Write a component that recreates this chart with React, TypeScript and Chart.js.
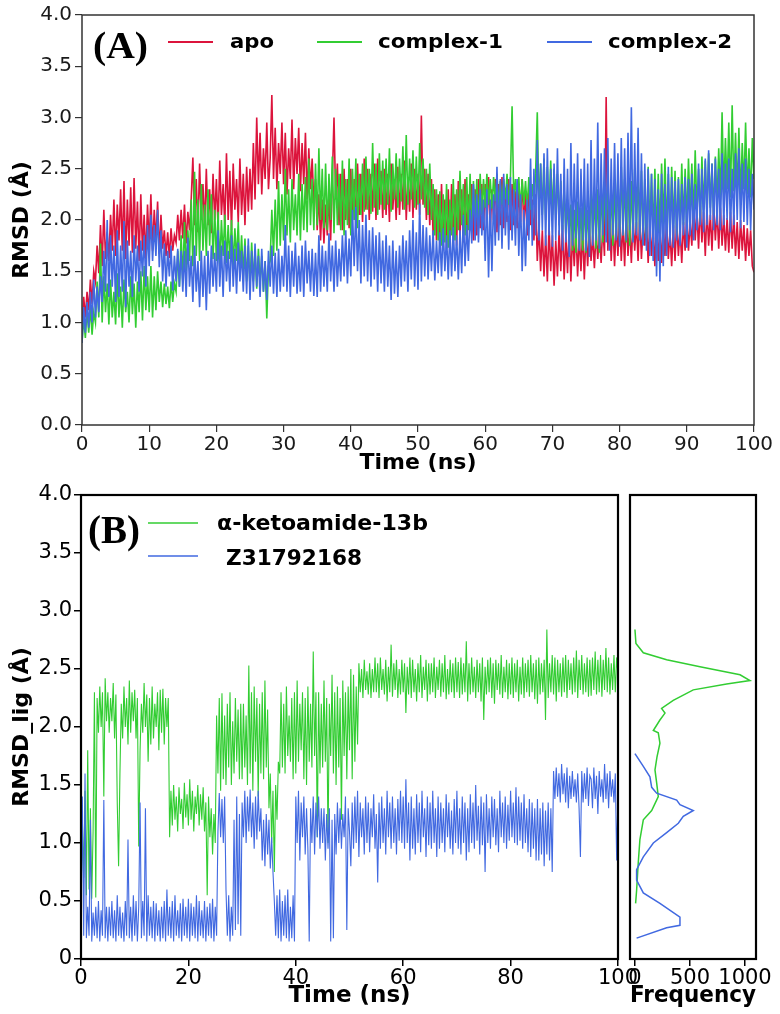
import React, { useEffect, useRef } from "react";
import { Chart, registerables } from "chart.js";

Chart.register(...registerables);

// ---------- DATA ----------
const TIME_STEP_NS = 0.25;

// Panel A: backbone RMSD (Å), one value every 0.25 ns from 0 to 100 ns
const APO = [
  0.95, 1.25, 1.05, 1.30, 1.12, 1.42, 1.18, 1.50, 1.40, 1.75, 1.48, 1.95, 1.55, 2.10, 1.62, 1.88, 1.60, 2.05, 1.70, 2.20,
  1.65, 2.15, 1.80, 2.30, 1.70, 2.38, 1.62, 2.20, 1.75, 2.32, 1.68, 2.41, 1.72, 2.18, 1.60, 2.25, 1.70, 2.05, 1.62, 2.15,
  1.75, 2.25, 1.70, 2.10, 1.80, 2.18, 1.67, 2.05, 1.72, 1.90, 1.65, 1.88, 1.63, 1.92, 1.70, 1.85, 1.78, 2.05, 1.80, 2.10,
  1.82, 2.15, 1.77, 2.08, 1.90, 2.20, 2.61, 1.95, 2.40, 1.88, 2.55, 2.00, 2.35, 1.92, 2.50, 1.95, 2.30, 1.87, 2.45, 2.00,
  2.40, 1.92, 2.58, 2.05, 2.35, 1.95, 2.65, 2.00, 2.48, 1.90, 2.55, 2.10, 2.40, 1.98, 2.60, 2.05, 2.45, 1.95, 2.52, 2.08,
  2.50, 2.10, 2.75, 2.20, 3.00, 2.35, 2.85, 2.25, 2.70, 2.40, 2.95, 2.30, 2.60, 3.22, 2.40, 2.90, 2.30, 2.75, 2.45, 2.95,
  2.35, 2.85, 2.25, 2.70, 2.40, 2.98, 2.30, 2.80, 2.45, 2.90, 2.28, 2.75, 2.35, 2.85, 2.20, 2.70, 2.30, 2.60, 2.15, 2.40,
  1.90, 2.25, 1.80, 2.20, 1.77, 2.15, 1.85, 2.25, 1.80, 2.40, 3.00, 2.20, 2.55, 1.95, 2.45, 1.90, 2.50, 2.00, 2.40, 1.92,
  2.50, 2.00, 2.40, 1.95, 2.55, 2.05, 2.45, 1.98, 2.60, 2.10, 2.50, 2.00, 2.45, 2.08, 2.55, 2.00, 2.60, 2.10, 2.48, 2.02,
  2.50, 2.05, 2.45, 1.98, 2.55, 2.10, 2.40, 2.00, 2.52, 2.05, 2.45, 2.10, 2.58, 2.00, 2.42, 2.08, 2.55, 2.02, 2.50, 2.10,
  2.45, 2.05, 3.02, 2.15, 2.50, 2.00, 2.45, 1.95, 2.40, 1.85, 2.30, 1.80, 2.25, 1.75, 2.35, 1.82, 2.20, 1.72, 2.30, 1.78,
  2.35, 1.80, 2.25, 1.75, 2.38, 1.85, 2.30, 1.78, 2.40, 1.82, 2.25, 1.90, 2.35, 1.80, 2.30, 1.85, 2.40, 1.92, 2.35, 1.90,
  2.35, 1.95, 2.42, 1.90, 2.30, 2.00, 2.40, 1.88, 2.35, 1.95, 2.42, 1.92, 2.30, 1.98, 2.40, 1.90, 2.35, 1.95, 2.28, 1.92,
  2.30, 1.98, 2.40, 1.92, 2.28, 1.85, 2.35, 1.95, 2.20, 1.80, 2.25, 1.60, 1.95, 1.50, 1.90, 1.45, 1.85, 1.40, 1.95, 1.50,
  1.85, 1.36, 1.80, 1.45, 1.90, 1.50, 1.95, 1.42, 1.85, 1.48, 1.93, 1.40, 1.88, 1.55, 1.92, 1.45, 1.85, 1.50, 1.90, 1.42,
  1.88, 1.55, 1.93, 1.60, 1.85, 1.53, 1.90, 1.62, 1.85, 1.58, 1.95, 1.65, 3.20, 1.70, 2.05, 1.60, 2.00, 1.55, 1.98, 1.65,
  2.05, 1.60, 1.98, 1.55, 2.06, 1.65, 1.95, 1.58, 2.02, 1.70, 1.98, 1.60, 2.05, 1.62, 1.95, 1.75, 2.02, 1.58, 1.98, 1.65,
  1.90, 1.55, 1.98, 1.60, 1.92, 1.58, 1.95, 1.65, 2.00, 1.62, 1.88, 1.55, 1.95, 1.60, 2.00, 1.65, 1.92, 1.58, 1.98, 1.70,
  2.05, 1.70, 1.98, 1.75, 2.18, 1.80, 2.10, 1.72, 2.15, 1.78, 2.08, 1.65, 2.12, 1.75, 2.05, 1.70, 2.15, 1.80, 2.10, 1.72,
  2.12, 1.75, 2.05, 1.70, 2.02, 1.68, 2.08, 1.72, 2.05, 1.65, 1.98, 1.62, 2.00, 1.70, 1.95, 1.60, 1.92, 1.65, 1.90, 1.55,
  1.49,
];

const COMPLEX1 = [
  0.80, 1.05, 0.85, 1.12, 0.90, 1.15, 0.88, 1.10, 1.00, 1.40, 1.05, 1.77, 1.00, 1.45, 1.10, 1.38, 0.98, 1.42, 1.05, 1.30,
  0.98, 1.48, 1.05, 1.35, 0.95, 1.42, 1.10, 1.30, 1.00, 1.45, 1.08, 1.38, 0.95, 1.40, 1.10, 1.50, 1.02, 1.55, 1.12, 1.45,
  1.10, 1.55, 1.05, 1.45, 1.12, 1.50, 1.20, 1.40, 1.15, 1.38, 1.18, 1.35, 1.14, 1.40, 1.20, 1.38, 1.30, 1.70, 1.35, 1.85,
  1.40, 1.98, 1.50, 1.90, 1.60, 2.20, 1.55, 2.47, 1.65, 2.20, 1.60, 2.35, 1.70, 2.15, 1.65, 2.30, 1.75, 2.25, 1.62, 2.10,
  1.60, 2.08, 1.55, 2.00, 1.65, 2.05, 1.58, 1.95, 1.62, 2.00, 1.54, 1.92, 1.60, 1.98, 1.50, 1.85, 1.45, 1.82, 1.40, 1.75,
  1.35, 1.78, 1.40, 1.70, 1.33, 1.72, 1.38, 1.65, 1.30, 1.60, 1.04, 1.55, 1.60, 2.10, 1.65, 2.20, 1.70, 2.38, 1.75, 2.25,
  1.80, 2.50, 1.85, 2.30, 1.78, 2.40, 1.90, 2.25, 1.85, 2.45, 1.80, 2.35, 1.90, 2.42, 1.88, 2.60, 1.95, 2.40, 1.90, 2.55,
  1.95, 2.70, 2.00, 2.50, 1.92, 2.55, 1.90, 2.45, 2.00, 2.62, 1.87, 2.50, 1.95, 2.45, 1.90, 2.58, 1.85, 2.40, 1.95, 2.60,
  1.85, 2.50, 2.00, 2.60, 1.92, 2.45, 2.05, 2.55, 2.08, 2.62, 2.10, 2.50, 2.06, 2.75, 2.12, 2.55, 2.05, 2.65, 2.15, 2.58,
  2.10, 2.60, 2.15, 2.70, 2.08, 2.55, 2.20, 2.65, 2.12, 2.60, 2.18, 2.72, 2.10, 2.83, 2.15, 2.60, 2.20, 2.68, 2.12, 2.62,
  2.15, 2.75, 2.20, 2.60, 2.12, 2.50, 2.05, 2.55, 2.00, 2.35, 1.85, 2.30, 1.80, 2.28, 1.75, 2.25, 1.78, 2.35, 1.73, 2.20,
  1.85, 2.40, 1.80, 2.30, 1.90, 2.48, 1.95, 2.35, 1.85, 2.42, 1.90, 2.45, 1.88, 2.38, 2.00, 2.40, 1.95, 2.45, 2.05, 2.40,
  2.12, 2.45, 2.15, 2.40, 2.11, 2.42, 2.18, 2.45, 2.12, 2.38, 2.15, 2.40, 2.20, 2.45, 2.15, 2.40, 3.11, 2.20, 2.40, 2.15,
  2.42, 2.10, 2.40, 2.15, 2.38, 2.12, 2.42, 2.10, 2.35, 2.15, 2.45, 3.05, 2.10, 2.55, 2.05, 2.60, 2.00, 2.52, 2.08, 2.58,
  2.05, 2.50, 2.00, 2.45, 1.95, 2.38, 1.90, 2.30, 1.85, 2.20, 1.75, 2.15, 1.70, 2.10, 1.68, 2.18, 1.72, 2.12, 1.70, 2.20,
  1.68, 2.10, 1.75, 2.35, 1.80, 2.25, 1.72, 2.30, 1.68, 2.35, 1.78, 2.28, 1.85, 2.40, 1.80, 2.30, 1.75, 2.35, 1.82, 2.45,
  1.80, 2.52, 1.85, 2.40, 1.78, 2.45, 1.75, 2.38, 1.80, 2.50, 1.90, 2.42, 1.85, 2.48, 1.76, 2.40, 1.82, 2.52, 1.90, 2.45,
  1.85, 2.50, 1.80, 2.45, 1.88, 2.55, 1.95, 2.60, 1.90, 2.45, 1.85, 2.52, 1.92, 2.48, 1.85, 2.42, 1.90, 2.55, 1.95, 2.50,
  1.95, 2.60, 2.05, 2.55, 2.00, 2.68, 2.08, 2.50, 1.98, 2.62, 2.10, 2.58, 2.05, 2.65, 2.12, 2.55, 2.05, 2.62, 2.15, 2.70,
  2.20, 3.05, 2.25, 2.80, 2.30, 2.95, 2.22, 3.12, 2.28, 2.85, 2.25, 2.90, 2.20, 2.75, 2.30, 2.95, 2.25, 2.70, 2.22, 2.80,
  2.40,
];

const COMPLEX2 = [
  0.80, 1.15, 0.90, 1.20, 0.95, 1.30, 1.00, 1.42, 1.05, 1.35, 1.10, 1.45, 1.20, 1.70, 1.30, 2.00, 1.25, 1.85, 1.35, 1.75,
  1.20, 1.90, 1.25, 1.75, 1.30, 1.99, 1.15, 1.80, 1.35, 1.70, 1.25, 1.85, 1.40, 1.75, 1.30, 1.80, 1.45, 1.85, 1.35, 1.95,
  1.55, 2.05, 1.60, 1.95, 1.65, 2.10, 1.54, 1.90, 1.40, 1.77, 1.35, 1.70, 1.45, 1.75, 1.31, 1.65, 1.40, 1.72, 1.35, 1.70,
  1.30, 1.70, 1.25, 1.83, 1.35, 1.65, 1.20, 1.75, 1.30, 1.60, 1.15, 1.70, 1.25, 1.65, 1.12, 1.70, 1.28, 1.75, 1.35, 1.68,
  1.30, 1.90, 1.35, 1.75, 1.25, 1.80, 1.40, 1.70, 1.30, 1.85, 1.35, 1.72, 1.28, 1.78, 1.40, 1.70, 1.30, 1.75, 1.28, 1.82,
  1.22, 1.70, 1.30, 1.77, 1.35, 1.65, 1.25, 1.72, 1.30, 1.60, 1.22, 1.70, 1.35, 1.75, 1.28, 1.68, 1.25, 1.72, 1.30, 1.65,
  1.35, 1.95, 1.30, 1.75, 1.25, 1.70, 1.35, 1.78, 1.28, 1.65, 1.30, 1.75, 1.25, 1.80, 1.38, 1.70, 1.30, 1.72, 1.26, 1.68,
  1.25, 1.85, 1.30, 1.75, 1.35, 1.70, 1.30, 1.87, 1.40, 1.75, 1.30, 1.80, 1.35, 1.72, 1.40, 1.85, 1.45, 1.90, 1.38, 1.82,
  1.45, 2.10, 1.55, 2.13, 1.50, 2.00, 1.38, 1.95, 1.45, 2.05, 1.40, 1.90, 1.35, 1.93, 1.42, 1.85, 1.30, 1.88, 1.38, 1.80,
  1.30, 1.85, 1.35, 1.75, 1.22, 1.80, 1.28, 1.70, 1.25, 1.75, 1.35, 1.85, 1.40, 1.80, 1.30, 1.90, 1.42, 2.00, 1.35, 1.88,
  1.32, 2.16, 1.40, 1.95, 1.45, 1.93, 1.42, 1.85, 1.50, 1.90, 1.41, 1.80, 1.48, 1.88, 1.45, 1.92, 1.50, 1.85, 1.42, 1.90,
  1.45, 1.93, 1.50, 1.85, 1.42, 1.90, 1.48, 2.05, 1.55, 1.95, 1.60, 2.10, 1.77, 2.35, 1.80, 2.25, 1.78, 2.30, 1.85, 2.20,
  1.60, 2.30, 1.44, 2.20, 1.50, 2.25, 1.75, 2.52, 1.80, 2.40, 1.72, 2.45, 1.85, 2.35, 1.71, 2.42, 1.80, 2.30, 1.75, 2.40,
  1.65, 2.25, 1.50, 2.10, 1.55, 2.20, 1.80, 2.60, 1.75, 2.50, 1.85, 2.78, 1.80, 2.55, 1.90, 2.65, 1.75, 2.70, 1.85, 2.50,
  1.74, 2.55, 1.80, 2.70, 1.85, 2.45, 1.70, 2.60, 1.78, 2.50, 1.64, 2.75, 1.75, 2.55, 1.82, 2.65, 1.70, 2.50, 1.80, 2.60,
  1.70, 2.55, 1.64, 2.78, 1.75, 2.60, 1.80, 2.95, 1.72, 2.65, 1.85, 2.70, 1.78, 2.80, 1.70, 2.60, 1.85, 2.75, 1.80, 2.65,
  1.74, 2.80, 1.85, 2.70, 1.80, 2.85, 1.90, 3.10, 1.78, 2.75, 1.85, 2.90, 1.80, 2.65, 1.75, 2.55, 1.70, 2.50, 1.65, 2.45,
  1.60, 2.40, 1.45, 2.30, 1.40, 2.45, 1.55, 2.35, 1.65, 2.52, 1.75, 2.42, 1.73, 2.38, 1.80, 2.40, 1.75, 2.35, 1.85, 2.42,
  1.73, 2.40, 1.85, 2.45, 1.80, 2.35, 1.90, 2.55, 1.95, 2.50, 1.88, 2.60, 1.95, 2.68, 2.00, 2.55, 1.90, 2.60, 1.95, 2.50,
  1.90, 2.65, 1.95, 2.55, 2.00, 2.60, 1.88, 2.50, 1.95, 2.65, 2.00, 2.70, 1.92, 2.55, 1.98, 2.60, 1.95, 2.50, 1.90, 2.45,
  2.10,
];

// Panel B: ligand RMSD (Å), one value every 0.25 ns from 0 to 100 ns
const KETO = [
  0.50, 1.20, 0.70, 1.45, 0.55, 1.80, 0.60, 1.30, 0.52, 1.10, 2.30, 0.53, 2.25, 1.95, 2.35, 2.00, 2.30, 1.40, 2.42, 2.05,
  2.30, 1.95, 2.25, 2.05, 2.38, 1.90, 2.28, 1.35, 0.80, 1.60, 2.20, 1.90, 2.35, 2.00, 2.25, 1.85, 2.40, 1.95, 2.30, 2.05,
  2.32, 1.90, 2.25, 0.97, 1.80, 2.20, 1.95, 2.38, 2.00, 2.28, 1.70, 2.25, 1.85, 2.35, 1.90, 2.20, 2.00, 2.30, 1.80, 2.32,
  1.95, 2.33, 1.85, 2.25, 2.00, 2.25, 1.05, 1.45, 1.15, 1.50, 1.20, 1.40, 1.10, 1.48, 1.25, 1.38, 1.12, 1.52, 1.22, 1.42,
  1.15, 1.55, 1.20, 1.45, 1.10, 1.40, 1.25, 1.50, 1.15, 1.42, 1.20, 1.48, 1.10, 1.35, 0.55, 1.40, 1.05, 1.30, 0.90, 1.25,
  1.00, 2.10, 1.60, 2.25, 1.45, 2.29, 1.55, 2.10, 1.50, 2.20, 1.65, 2.30, 1.50, 2.05, 1.60, 2.25, 1.70, 2.15, 1.55, 2.20,
  1.55, 2.20, 1.65, 2.10, 1.50, 2.53, 1.60, 2.30, 1.45, 2.35, 1.70, 2.25, 1.40, 2.20, 1.60, 2.30, 1.55, 2.40, 1.65, 2.15,
  1.30, 1.60, 1.00, 1.45, 0.75, 1.50, 1.20, 1.70, 1.60, 2.30, 1.65, 2.20, 1.60, 2.35, 1.75, 2.10, 1.70, 2.25, 1.55, 2.30,
  1.60, 2.40, 1.70, 2.20, 1.80, 2.30, 1.55, 2.25, 1.50, 2.35, 1.70, 2.20, 1.65, 2.65, 1.75, 2.30, 1.05, 2.30, 1.60, 2.20,
  1.65, 2.40, 1.70, 2.25, 1.00, 2.20, 1.75, 2.45, 1.60, 2.30, 1.50, 2.35, 1.65, 2.25, 1.20, 2.40, 1.75, 2.30, 1.55, 2.35,
  1.80, 2.50, 1.55, 2.45, 1.70, 2.35, 1.85, 2.55, 2.30, 2.50, 2.25, 2.58, 2.32, 2.48, 2.28, 2.55, 2.25, 2.50, 2.30, 2.60,
  2.30, 2.55, 2.25, 2.60, 2.32, 2.50, 2.28, 2.58, 2.22, 2.52, 2.30, 2.71, 2.26, 2.55, 2.32, 2.58, 2.25, 2.50, 2.28, 2.58,
  2.30, 2.55, 2.12, 2.52, 2.28, 2.60, 2.25, 2.58, 2.30, 2.50, 2.22, 2.55, 2.30, 2.62, 2.25, 2.52, 2.32, 2.58, 2.22, 2.55,
  2.28, 2.55, 2.30, 2.60, 2.25, 2.52, 2.32, 2.58, 2.26, 2.55, 2.30, 2.62, 2.24, 2.50, 2.28, 2.58, 2.30, 2.55, 2.25, 2.60,
  2.30, 2.56, 2.25, 2.60, 2.28, 2.55, 2.30, 2.74, 2.22, 2.55, 2.28, 2.60, 2.30, 2.52, 2.25, 2.58, 2.30, 2.55, 2.22, 2.60,
  2.06, 2.52, 2.28, 2.58, 2.30, 2.60, 2.25, 2.55, 2.20, 2.58, 2.32, 2.55, 2.28, 2.62, 2.25, 2.52, 2.30, 2.58, 2.24, 2.55,
  2.28, 2.60, 2.25, 2.55, 2.30, 2.58, 2.22, 2.52, 2.28, 2.60, 2.25, 2.55, 2.30, 2.58, 2.26, 2.62, 2.30, 2.55, 2.24, 2.58,
  2.20, 2.60, 2.28, 2.55, 2.30, 2.58, 2.06, 2.84, 2.25, 2.55, 2.30, 2.62, 2.28, 2.60, 2.22, 2.58, 2.30, 2.55, 2.26, 2.60,
  2.30, 2.62, 2.25, 2.58, 2.32, 2.55, 2.28, 2.60, 2.30, 2.66, 2.25, 2.58, 2.32, 2.62, 2.28, 2.55, 2.30, 2.60, 2.26, 2.58,
  2.27, 2.60, 2.32, 2.65, 2.28, 2.58, 2.30, 2.62, 2.26, 2.58, 2.32, 2.68, 2.30, 2.60, 2.28, 2.55, 2.32, 2.62, 2.30, 2.60,
  2.45,
];

const Z3 = [
  0.25, 1.40, 0.20, 1.60, 0.18, 0.45, 0.20, 1.20, 0.15, 0.40, 0.20, 0.45, 0.18, 0.50, 0.15, 0.42, 0.20, 1.37, 0.18, 0.45,
  0.15, 0.45, 0.20, 0.50, 0.18, 0.42, 0.15, 0.55, 0.20, 0.45, 0.18, 0.40, 0.15, 0.50, 0.20, 1.03, 0.18, 0.45, 0.15, 0.55,
  0.20, 0.50, 0.15, 0.45, 1.35, 0.18, 0.50, 0.20, 1.30, 0.15, 0.55, 0.20, 0.45, 0.18, 0.50, 0.15, 0.48, 0.20, 0.42, 0.15,
  0.45, 0.18, 0.50, 0.15, 0.60, 0.20, 0.45, 0.18, 0.50, 0.15, 0.55, 0.20, 0.42, 0.18, 0.48, 0.15, 0.52, 0.20, 0.45, 0.18,
  0.52, 0.15, 0.48, 0.20, 0.45, 0.18, 0.55, 0.15, 0.50, 0.20, 0.42, 0.18, 0.50, 0.15, 0.45, 0.20, 0.48, 0.18, 0.52, 0.15,
  0.45, 0.20, 1.10, 1.43, 1.05, 1.38, 1.00, 1.40, 0.60, 0.20, 0.55, 0.15, 0.45, 0.20, 1.20, 0.25, 1.40, 0.30, 1.25, 0.20,
  1.35, 1.05, 1.45, 1.00, 1.40, 1.10, 1.46, 1.05, 1.35, 0.95, 1.40, 1.03, 1.45, 1.10, 1.30, 0.85, 1.20, 0.80, 1.25, 0.90,
  1.20, 0.78, 1.05, 0.75, 0.50, 0.20, 0.55, 0.18, 0.60, 0.15, 0.50, 0.20, 0.55, 0.18, 0.60, 0.15, 0.45, 0.18, 0.55, 0.15,
  1.40, 1.00, 1.45, 0.85, 1.35, 1.05, 1.40, 0.90, 1.30, 0.95, 0.15, 1.30, 1.00, 1.40, 0.90, 1.35, 1.05, 1.40, 0.95, 1.30,
  1.00, 1.30, 0.85, 1.25, 0.95, 1.30, 0.15, 1.20, 0.18, 1.25, 0.90, 1.35, 1.00, 1.30, 0.95, 1.25, 1.05, 1.40, 0.25, 1.30,
  1.10, 0.80, 1.35, 0.95, 1.40, 1.00, 1.45, 0.88, 1.35, 1.05, 1.30, 0.90, 1.40, 1.00, 1.35, 0.92, 1.30, 1.05, 1.42, 0.95,
  1.25, 0.66, 1.35, 0.95, 1.40, 1.00, 1.30, 0.90, 1.45, 1.05, 1.35, 0.95, 1.40, 1.00, 1.30, 0.90, 1.38, 1.02, 1.45, 1.00,
  1.40, 0.95, 1.55, 1.00, 1.35, 0.85, 1.40, 0.95, 1.30, 0.90, 1.42, 1.00, 1.35, 0.92, 1.45, 1.05, 1.30, 0.88, 1.40, 0.98,
  1.35, 0.95, 1.45, 1.00, 1.30, 0.88, 1.40, 0.95, 1.35, 1.00, 1.30, 0.92, 1.42, 1.05, 1.35, 0.95, 1.28, 0.90, 1.38, 1.00,
  1.45, 0.95, 1.30, 0.90, 1.40, 1.00, 1.35, 0.85, 1.30, 0.92, 1.42, 1.00, 1.35, 0.95, 1.50, 1.02, 1.32, 0.90, 1.40, 0.98,
  1.35, 0.75, 1.42, 1.00, 1.30, 0.95, 1.40, 1.05, 1.38, 0.98, 1.30, 0.92, 1.45, 1.05, 1.35, 1.00, 1.40, 0.95, 1.33, 1.02,
  1.45, 1.05, 1.35, 1.00, 1.48, 0.98, 1.40, 1.02, 1.35, 0.95, 1.42, 1.00, 1.30, 0.92, 1.38, 0.88, 1.35, 0.95, 1.30, 0.85,
  1.38, 0.85, 1.30, 0.90, 1.35, 0.80, 1.28, 0.90, 1.35, 0.85, 1.30, 0.75, 1.62, 1.38, 1.65, 1.40, 1.60, 1.35, 1.68, 1.42,
  1.60, 1.35, 1.65, 1.30, 1.58, 1.38, 1.62, 1.40, 1.55, 1.35, 1.60, 1.30, 0.88, 1.62, 1.35, 1.60, 1.38, 1.65, 1.32, 1.58,
  1.55, 1.30, 1.65, 1.38, 1.58, 1.25, 1.62, 1.40, 1.55, 1.35, 1.68, 1.38, 1.60, 1.30, 1.62, 1.40, 1.55, 1.35, 1.60, 0.85,
  1.45,
];

// Panel B (right): frequency distributions of ligand RMSD
const KETO_FREQ_RMSD = [2.84, 2.72, 2.64, 2.58, 2.52, 2.45, 2.40, 2.37, 2.32, 2.23, 2.16, 2.12, 2.06, 1.97, 1.95, 1.86, 1.74, 1.63, 1.52, 1.40, 1.28, 1.20, 1.03, 0.83, 0.59, 0.48];
const KETO_FREQ_COUNT = [0, 9, 76, 288, 591, 955, 1045, 833, 530, 348, 242, 273, 227, 167, 212, 227, 200, 182, 197, 212, 152, 76, 45, 30, 15, 6];
const Z3_FREQ_RMSD = [1.77, 1.66, 1.57, 1.48, 1.43, 1.37, 1.33, 1.28, 1.23, 1.17, 1.09, 1.00, 0.88, 0.77, 0.68, 0.57, 0.48, 0.36, 0.29, 0.27, 0.18];
const Z3_FREQ_COUNT = [0, 76, 136, 152, 197, 379, 409, 530, 439, 394, 288, 167, 76, 15, 15, 76, 227, 409, 409, 288, 15];

// Ticks
const A_X_TICKS = [0, 10, 20, 30, 40, 50, 60, 70, 80, 90, 100];
const A_Y_TICKS = [0, 0.5, 1, 1.5, 2, 2.5, 3, 3.5, 4];
const A_Y_TICK_LABELS = ["0.0", "0.5", "1.0", "1.5", "2.0", "2.5", "3.0", "3.5", "4.0"];
const B_X_TICKS = [0, 20, 40, 60, 80, 100];
const B_Y_TICKS = [0, 0.5, 1, 1.5, 2, 2.5, 3, 3.5, 4];
const B_Y_TICK_LABELS = ["0", "0.5", "1.0", "1.5", "2.0", "2.5", "3.0", "3.5", "4.0"];
const FREQ_TICKS = [0, 500, 1000];
const FREQ_TICK_LABELS = ["0", "500", "1000"];

const SERIES_A_LABELS = ["apo", "complex-1", "complex-2"];
const SERIES_B_LABELS = ["α-ketoamide-13b", "Z31792168"];

// ---------- STYLE ----------
const RED = "#DC143C";
const GREEN = "#32CD32";
const BLUE = "#4169E1";
const SANS = "'DejaVu Sans', sans-serif";
const SERIF = "'Liberation Serif', 'Times New Roman', serif";

const toXY = (vals: number[], step: number) => vals.map((v, i) => ({ x: i * step, y: v }));
const pairXY = (xs: number[], ys: number[]) => xs.map((x, i) => ({ x, y: ys[i] }));

function fitText(ctx: CanvasRenderingContext2D, text: string, x: number, y: number, width: number) {
  const w = ctx.measureText(text).width || 1;
  ctx.save();
  ctx.translate(x, y);
  ctx.scale(width / w, 1);
  ctx.textAlign = "left";
  ctx.textBaseline = "alphabetic";
  ctx.fillText(text, 0, 0);
  ctx.restore();
}

function framePlugin(color: string, width: number) {
  return {
    id: "frame",
    afterDatasetsDraw(chart: any) {
      const { ctx, chartArea } = chart;
      const { left, top, right, bottom } = chartArea;
      ctx.save();
      ctx.strokeStyle = color;
      ctx.lineWidth = width;
      ctx.strokeRect(left, top, right - left, bottom - top);
      ctx.restore();
    },
  };
}

type LegendItem = { x1: number; x2: number; ly: number; tx: number; ty: number; tw: number };
function insideLegendPlugin(cfg: {
  panel: { text: string; x: number; y: number; w: number; font: string };
  items: LegendItem[];
  font: string;
  lineWidth: number;
}) {
  return {
    id: "insideLegend",
    afterDraw(chart: any) {
      const ctx: CanvasRenderingContext2D = chart.ctx;
      ctx.save();
      ctx.fillStyle = "#000";
      ctx.font = cfg.panel.font;
      fitText(ctx, cfg.panel.text, cfg.panel.x, cfg.panel.y, cfg.panel.w);
      chart.data.datasets.forEach((ds: any, i: number) => {
        const it = cfg.items[i];
        if (!it) return;
        ctx.strokeStyle = ds.borderColor;
        ctx.lineWidth = cfg.lineWidth;
        ctx.beginPath();
        ctx.moveTo(it.x1, it.ly);
        ctx.lineTo(it.x2, it.ly);
        ctx.stroke();
        ctx.fillStyle = "#000";
        ctx.font = cfg.font;
        fitText(ctx, ds.label, it.tx, it.ty, it.tw);
      });
      ctx.restore();
    },
  };
}

function fixedTicks(values: number[]) {
  return (scale: any) => {
    scale.ticks = values.map((v) => ({ value: v }));
  };
}

function configA(): any {
  const tickColor = "#333";
  return {
    type: "line",
    data: {
      datasets: [
        { label: SERIES_A_LABELS[0], data: toXY(APO, TIME_STEP_NS), borderColor: RED, borderWidth: 1.6, order: 3 },
        { label: SERIES_A_LABELS[1], data: toXY(COMPLEX1, TIME_STEP_NS), borderColor: GREEN, borderWidth: 1.6, order: 2 },
        { label: SERIES_A_LABELS[2], data: toXY(COMPLEX2, TIME_STEP_NS), borderColor: BLUE, borderWidth: 1.6, order: 1 },
      ],
    },
    options: {
      responsive: false,
      animation: false,
      events: [],
      layout: { padding: { left: 0, top: 14, right: 26, bottom: 0 } },
      elements: { point: { radius: 0 }, line: { tension: 0 } },
      plugins: { legend: { display: false }, tooltip: { enabled: false } },
      scales: {
        x: {
          type: "linear",
          min: 0,
          max: 100,
          afterBuildTicks: fixedTicks(A_X_TICKS),
          afterFit: (s: any) => { s.height = 60; },
          ticks: { autoSkip: false, maxRotation: 0, padding: 1, color: "#1a1a1a", font: { family: SANS, size: 20 } },
          grid: { drawOnChartArea: false, tickLength: 7, color: tickColor, lineWidth: 1.2 },
          border: { display: false },
          title: { display: true, text: "Time (ns)", color: "#000", font: { family: SANS, size: 22, weight: "bold" }, padding: { top: 0, bottom: 9 } },
        },
        y: {
          type: "linear",
          min: 0,
          max: 4,
          afterBuildTicks: fixedTicks(A_Y_TICKS),
          afterFit: (s: any) => { s.width = 82; },
          ticks: {
            autoSkip: false,
            padding: 3,
            color: "#1a1a1a",
            font: { family: SANS, size: 20 },
            callback: (_v: any, i: number) => A_Y_TICK_LABELS[i],
          },
          grid: { drawOnChartArea: false, tickLength: 7, color: tickColor, lineWidth: 1.2 },
          border: { display: false },
          title: { display: true, text: "RMSD (Å)", color: "#000", font: { family: SANS, size: 22, weight: "bold" }, padding: { top: 9, bottom: 0 } },
        },
      },
    },
    plugins: [
      framePlugin("#333", 1.5),
      insideLegendPlugin({
        panel: { text: "(A)", x: 93, y: 58, w: 55, font: `bold 38px ${SERIF}` },
        items: [
          { x1: 168, x2: 213, ly: 42, tx: 230, ty: 48, tw: 44 },
          { x1: 317, x2: 362, ly: 42, tx: 378, ty: 48, tw: 125 },
          { x1: 547, x2: 592, ly: 42, tx: 608, ty: 48, tw: 124 },
        ],
        font: `bold 20px ${SANS}`,
        lineWidth: 2,
      }),
    ],
  };
}

function configB(): any {
  return {
    type: "line",
    data: {
      datasets: [
        { label: SERIES_B_LABELS[0], data: toXY(KETO, TIME_STEP_NS), borderColor: GREEN, borderWidth: 1.1, order: 2 },
        { label: SERIES_B_LABELS[1], data: toXY(Z3, TIME_STEP_NS), borderColor: BLUE, borderWidth: 1.1, order: 1 },
      ],
    },
    options: {
      responsive: false,
      animation: false,
      events: [],
      layout: { padding: { left: 0, top: 20, right: 42, bottom: 0 } },
      elements: { point: { radius: 0 }, line: { tension: 0 } },
      plugins: { legend: { display: false }, tooltip: { enabled: false } },
      scales: {
        x: {
          type: "linear",
          min: 0,
          max: 100,
          afterBuildTicks: fixedTicks(B_X_TICKS),
          afterFit: (s: any) => { s.height = 55; },
          ticks: { autoSkip: false, maxRotation: 0, padding: 0, color: "#000", font: { family: SANS, size: 21 } },
          grid: { drawOnChartArea: false, tickLength: 7, color: "#000", lineWidth: 1.5 },
          border: { display: false },
          title: { display: true, text: "Time (ns)", color: "#000", font: { family: SANS, size: 23, weight: "bold" }, padding: { top: 0, bottom: 4 } },
        },
        y: {
          type: "linear",
          min: 0,
          max: 4,
          afterBuildTicks: fixedTicks(B_Y_TICKS),
          afterFit: (s: any) => { s.width = 81; },
          ticks: {
            autoSkip: false,
            padding: 2,
            color: "#000",
            font: { family: SANS, size: 21 },
            callback: (_v: any, i: number) => B_Y_TICK_LABELS[i],
          },
          grid: { drawOnChartArea: false, tickLength: 7, color: "#000", lineWidth: 1.5 },
          border: { display: false },
          title: { display: true, text: "RMSD_lig (Å)", color: "#000", font: { family: SANS, size: 22, weight: "bold" }, padding: { top: 9, bottom: 0 } },
        },
      },
    },
    plugins: [
      framePlugin("#000", 2.2),
      insideLegendPlugin({
        panel: { text: "(B)", x: 88, y: 68, w: 52, font: `bold 40px ${SERIF}` },
        items: [
          { x1: 148, x2: 198, ly: 48, tx: 217, ty: 55, tw: 211 },
          { x1: 148, x2: 198, ly: 81, tx: 226, ty: 90, tw: 136 },
        ],
        font: `bold 21px ${SANS}`,
        lineWidth: 1.5,
      }),
    ],
  };
}

function configFreq(): any {
  return {
    type: "scatter",
    data: {
      datasets: [
        { label: SERIES_B_LABELS[0], data: pairXY(KETO_FREQ_COUNT, KETO_FREQ_RMSD), borderColor: GREEN, borderWidth: 1.5, showLine: true, pointRadius: 0, order: 2 },
        { label: SERIES_B_LABELS[1], data: pairXY(Z3_FREQ_COUNT, Z3_FREQ_RMSD), borderColor: BLUE, borderWidth: 1.5, showLine: true, pointRadius: 0, order: 1 },
      ],
    },
    options: {
      responsive: false,
      animation: false,
      events: [],
      layout: { padding: { left: 0, top: 10, right: 24, bottom: 0 } },
      elements: { point: { radius: 0 }, line: { tension: 0 } },
      plugins: { legend: { display: false }, tooltip: { enabled: false } },
      scales: {
        x: {
          type: "linear",
          min: -45,
          max: 1100,
          afterBuildTicks: fixedTicks(FREQ_TICKS),
          afterFit: (s: any) => { s.height = 55; },
          ticks: {
            autoSkip: false,
            maxRotation: 0,
            padding: 0,
            color: "#000",
            font: { family: SANS, size: 21 },
            callback: (_v: any, i: number) => FREQ_TICK_LABELS[i],
          },
          grid: { drawOnChartArea: false, tickLength: 7, color: "#000", lineWidth: 1.5 },
          border: { display: false },
          title: { display: true, text: "Frequency", color: "#000", font: { family: SANS, size: 23, weight: "bold" }, padding: { top: 0, bottom: 4 } },
        },
        y: {
          type: "linear",
          min: 0,
          max: 4,
          afterFit: (s: any) => { s.width = 4; },
          ticks: { display: false },
          grid: { display: false },
          border: { display: false },
        },
      },
    },
    plugins: [framePlugin("#000", 2.2)],
  };
}

function ChartCanvas(props: { left: number; top: number; width: number; height: number; make: () => any }) {
  const ref = useRef<HTMLCanvasElement | null>(null);
  useEffect(() => {
    if (!ref.current) return;
    const chart = new Chart(ref.current, props.make());
    return () => chart.destroy();
  }, []);
  return (
    <canvas
      ref={ref}
      width={props.width}
      height={props.height}
      style={{ position: "absolute", left: props.left, top: props.top, width: props.width, height: props.height, display: "block" }}
    />
  );
}

export default function App() {
  return (
    <div style={{ position: "absolute", left: 0, top: 0, width: 780, height: 1014, background: "#fff", overflow: "hidden" }}>
      <ChartCanvas left={0} top={0} width={780} height={485} make={configA} />
      <ChartCanvas left={0} top={475} width={660} height={539} make={configB} />
      <ChartCanvas left={626} top={485} width={154} height={529} make={configFreq} />
    </div>
  );
}
